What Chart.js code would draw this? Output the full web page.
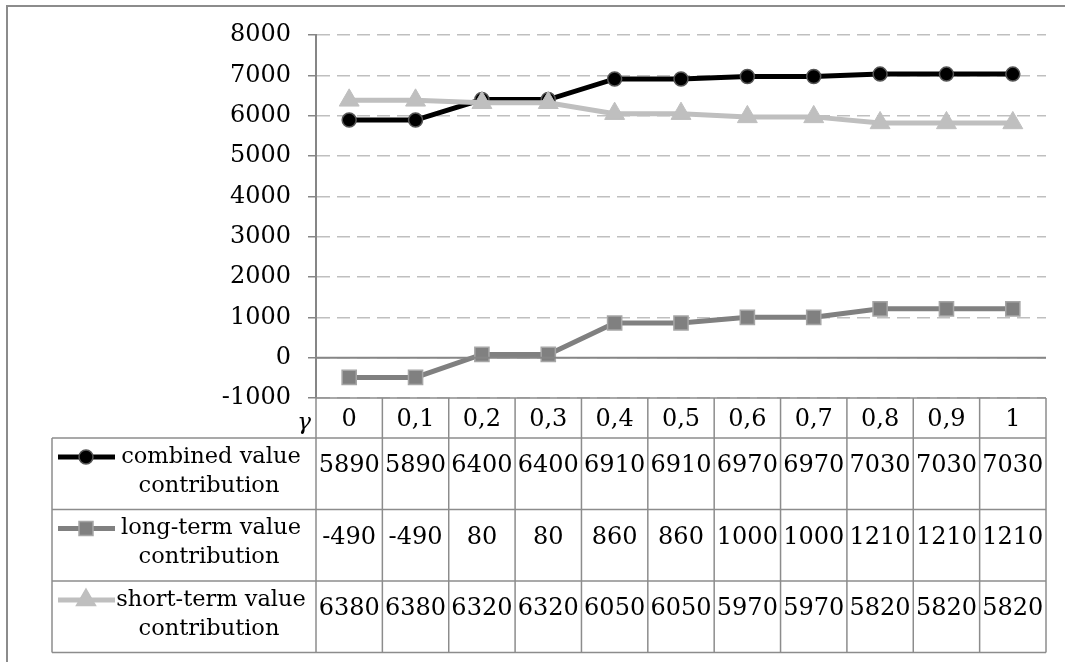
<!DOCTYPE html>
<html>
<head>
<meta charset="utf-8">
<script src="https://cdn.jsdelivr.net/npm/chart.js@4.4.1/dist/chart.umd.min.js"></script>
<style>
  body { margin: 0; background: #fff; }
  canvas { display: block; }
</style>
</head>
<body>
<canvas id="myChart" width="1065" height="662"></canvas>
<script>
const gammaLabels = ['0', '0,1', '0,2', '0,3', '0,4', '0,5', '0,6', '0,7', '0,8', '0,9', '1']
const combined = [5890, 5890, 6400, 6400, 6910, 6910, 6970, 6970, 7030, 7030, 7030]
const longTerm = [-490, -490, 80, 80, 860, 860, 1000, 1000, 1210, 1210, 1210]
const shortTerm = [6380, 6380, 6320, 6320, 6050, 6050, 5970, 5970, 5820, 5820, 5820]
const seriesNames = [
    ['combined value', 'contribution'],
    ['long-term value', 'contribution'],
    ['short-term value', 'contribution']
]
const yMin = -1000
const yMax = 8000
const yStep = 1000

const serif = 'DejaVu Serif'
const lineGray = '#8c8c8c'

// draws one legend marker in the table
const marker = (ctx, style, x, y, fill, stroke) => {
    ctx.fillStyle = fill
    ctx.strokeStyle = stroke
    ctx.lineWidth = 1.5
    ctx.beginPath()
    if (style === 'circle') {
        ctx.arc(x, y, 7, 0, Math.PI * 2)
    } else if (style === 'rect') {
        ctx.rect(x - 7, y - 7, 14, 14)
    } else {
        ctx.moveTo(x, y - 11)
        ctx.lineTo(x + 9.5, y + 5.5)
        ctx.lineTo(x - 9.5, y + 5.5)
        ctx.closePath()
    }
    ctx.fill()
    ctx.stroke()
}

const hline = (ctx, x1, x2, y) => {
    ctx.beginPath(); ctx.moveTo(x1, y); ctx.lineTo(x2, y); ctx.stroke()
}
const vline = (ctx, x, y1, y2) => {
    ctx.beginPath(); ctx.moveTo(x, y1); ctx.lineTo(x, y2); ctx.stroke()
}

const dataTable = {
    id: 'dataTable',
    afterDraw(chart) {
        const ctx = chart.ctx
        const area = chart.chartArea
        const xs = chart.scales.x
        const ys = chart.scales.y
        const n = gammaLabels.length
        const step = (area.right - area.left) / n
        const headTop = area.bottom
        const headBot = headTop + 40
        const rowH = 71.5
        const tableLeft = 52
        const tableBot = headBot + rowH * 3
        const rows = [combined, longTerm, shortTerm]
        const styles = [
            { pt: 'circle', line: '#000000', fill: '#000000', border: '#555555' },
            { pt: 'rect', line: '#808080', fill: '#808080', border: '#a6a6a6' },
            { pt: 'triangle', line: '#bfbfbf', fill: '#bfbfbf', border: '#bfbfbf' }
        ]

        ctx.save()
        ctx.setLineDash([])

        // zero line
        ctx.strokeStyle = '#868686'
        ctx.lineWidth = 2
        hline(ctx, area.left, area.right, ys.getPixelForValue(0))

        // table grid
        ctx.strokeStyle = lineGray
        ctx.lineWidth = 1.5
        hline(ctx, area.left, area.right, headTop)
        hline(ctx, tableLeft, area.right, headBot)
        for (let r = 1; r <= 3; r++) hline(ctx, tableLeft, area.right, headBot + rowH * r)
        vline(ctx, tableLeft, headBot, tableBot)
        for (let i = 0; i <= n; i++) {
            const bx = area.left + step * i
            vline(ctx, bx, headTop, tableBot)
        }

        // header
        ctx.fillStyle = '#000'
        ctx.textAlign = 'center'
        ctx.textBaseline = 'middle'
        ctx.font = `24px ${serif}`
        gammaLabels.forEach((lab, i) => ctx.fillText(lab, xs.getPixelForValue(i), headTop + 22))
        ctx.textAlign = 'right'
        ctx.font = `italic 23px ${serif}`
        ctx.fillText('γ', area.left - 5, headTop + 25)

        // rows
        rows.forEach((vals, r) => {
            const top = headBot + rowH * r
            ctx.fillStyle = '#000'
            ctx.textAlign = 'center'
            ctx.font = `24px ${serif}`
            vals.forEach((v, i) => ctx.fillText(String(v), xs.getPixelForValue(i), top + 28))

            ctx.font = `22.5px ${serif}`
            ctx.fillText(seriesNames[r][0], 211, top + 19)
            ctx.fillText(seriesNames[r][1], 209, top + 48)

            const st = styles[r]
            ctx.strokeStyle = st.line
            ctx.lineWidth = 5
            hline(ctx, 58, 115, top + 19)
            marker(ctx, st.pt, 86, top + 19, st.fill, st.border)
        })

        // outer chart border
        ctx.strokeStyle = '#8c8c8c'
        ctx.lineWidth = 2
        ctx.beginPath()
        ctx.moveTo(7, 662)
        ctx.lineTo(7, 6)
        ctx.lineTo(1065, 6)
        ctx.stroke()
        ctx.restore()
    }
}

const data = {
    labels: gammaLabels,
    datasets: [
        {
            label: 'combined value contribution',
            data: combined,
            borderColor: '#000000',
            backgroundColor: '#000000',
            borderWidth: 5,
            pointStyle: 'circle',
            pointRadius: 7,
            pointBackgroundColor: '#000000',
            pointBorderColor: '#555555',
            pointBorderWidth: 1.5,
            order: 2
        },
        {
            label: 'long-term value contribution',
            data: longTerm,
            borderColor: '#808080',
            backgroundColor: '#808080',
            borderWidth: 5,
            pointStyle: 'rect',
            pointRadius: 10,
            pointBackgroundColor: '#808080',
            pointBorderColor: '#a6a6a6',
            pointBorderWidth: 1.5,
            order: 1
        },
        {
            label: 'short-term value contribution',
            data: shortTerm,
            borderColor: '#bfbfbf',
            backgroundColor: '#bfbfbf',
            borderWidth: 5,
            pointStyle: 'triangle',
            pointRadius: 11.5,
            pointBackgroundColor: '#bfbfbf',
            pointBorderColor: '#bfbfbf',
            pointBorderWidth: 1,
            order: 0
        }
    ]
}

const config = {
    type: 'line',
    data: data,
    options: {
        responsive: false,
        animation: false,
        layout: { padding: { left: 0, top: 35, right: 19, bottom: 264 } },
        elements: { line: { tension: 0 } },
        scales: {
            x: {
                type: 'category',
                display: false,
                offset: true
            },
            y: {
                min: yMin,
                max: yMax,
                ticks: {
                    stepSize: yStep,
                    color: '#000',
                    font: { family: serif, size: 24 },
                    padding: 17,
                    callback: (v) => String(v)
                },
                grid: {
                    color: '#bfbfbf',
                    lineWidth: 1.5,
                    tickLength: 8,
                    tickColor: '#868686',
                    tickWidth: 1.5
                },
                border: { color: '#868686', width: 2, dash: [13, 7] },
                afterFit(s) { s.width = 316 }
            }
        },
        plugins: {
            legend: { display: false },
            tooltip: { enabled: false },
            title: { display: false }
        }
    },
    plugins: [dataTable]
}

const myChart = new Chart(document.getElementById('myChart'), config)
</script>
</body>
</html>
